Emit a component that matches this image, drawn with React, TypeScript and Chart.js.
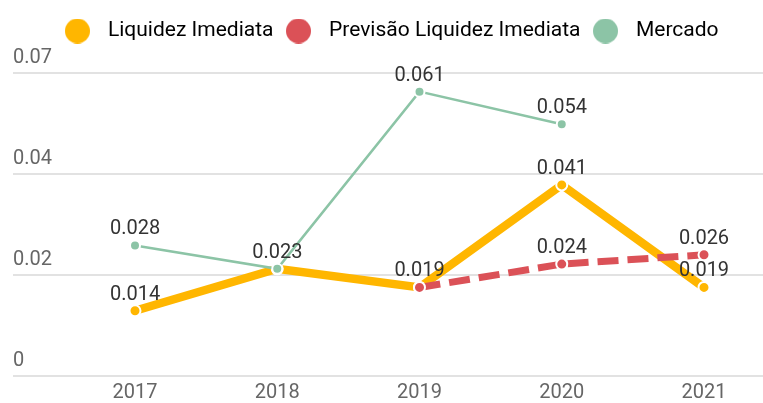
import React, { useEffect, useRef } from 'react';
import { Chart, registerables } from 'chart.js';

Chart.register(...registerables);

const categories = ['2017', '2018', '2019', '2020', '2021'];
const liquidezImediata: (number | null)[] = [0.014, 0.023, 0.019, 0.041, 0.019];
const previsaoLiquidez: (number | null)[] = [null, null, 0.019, 0.024, 0.026];
const mercado: (number | null)[] = [0.028, 0.023, 0.061, 0.054, null];
const seriesNames = ['Liquidez Imediata', 'Previsão Liquidez Imediata', 'Mercado'];
const yTickValues = [0, 0.065 / 3, (0.065 * 2) / 3, 0.065];
const yTickLabels = ['0', '0.02', '0.04', '0.07'];

const ORANGE = '#ffb600';
const RED = '#db5157';
const GREEN = '#8cc4a6';

function toPoints(arr: (number | null)[]) {
  return arr
    .map((v, i) => ({ x: i, y: v }))
    .filter((p) => p.y !== null) as { x: number; y: number }[];
}

function dot(color: string, d: number) {
  const c = document.createElement('canvas');
  c.width = d;
  c.height = d;
  const g = c.getContext('2d')!;
  g.fillStyle = color;
  g.beginPath();
  g.arc(d / 2, d / 2, d / 2, 0, Math.PI * 2);
  g.fill();
  return c;
}

const legendSpacer = {
  id: 'legendSpacer',
  beforeLayout(chart: any) {
    const lg = chart.legend;
    if (lg && !lg._spacerPatched) {
      const orig = lg.fit;
      lg.fit = function () {
        orig.call(this);
        this.height += 21.5;
      };
      lg._spacerPatched = true;
    }
  },
};

const valueLabels = {
  id: 'valueLabels',
  afterDatasetsDraw(chart: any) {
    const ctx = chart.ctx;
    ctx.save();
    ctx.font = '20px Roboto';
    ctx.fillStyle = '#333333';
    ctx.textAlign = 'center';
    ctx.textBaseline = 'middle';
    const seen = new Set<string>();
    chart.data.datasets.forEach((ds: any, di: number) => {
      const meta = chart.getDatasetMeta(di);
      meta.data.forEach((pt: any, j: number) => {
        const v = ds.data[j].y;
        const text = v.toFixed(3);
        const key = `${Math.round(pt.x)}|${Math.round(pt.y)}|${text}`;
        if (seen.has(key)) return;
        seen.add(key);
        ctx.fillText(text, pt.x, pt.y - 16);
      });
    });
    ctx.restore();
  },
};

export default function App() {
  const ref = useRef<HTMLCanvasElement>(null);

  useEffect(() => {
    if (!ref.current) return;
    Chart.defaults.font.family = 'Roboto';
    const dots = [dot(ORANGE, 25), dot(RED, 25), dot(GREEN, 25)];
    const chart = new Chart(ref.current, {
      type: 'line',
      data: {
        datasets: [
          {
            label: seriesNames[0],
            data: toPoints(liquidezImediata),
            borderColor: ORANGE,
            backgroundColor: ORANGE,
            borderWidth: 8.5,
            pointRadius: 5.5,
            pointBorderWidth: 2,
            pointBorderColor: '#ffffff',
            pointBackgroundColor: ORANGE,
            tension: 0,
            order: 3,
          },
          {
            label: seriesNames[1],
            data: toPoints(previsaoLiquidez),
            borderColor: RED,
            backgroundColor: RED,
            borderWidth: 7,
            borderDash: [21, 9],
            pointRadius: 5.5,
            pointBorderWidth: 2,
            pointBorderColor: '#ffffff',
            pointBackgroundColor: RED,
            tension: 0,
            order: 2,
          },
          {
            label: seriesNames[2],
            data: toPoints(mercado),
            borderColor: GREEN,
            backgroundColor: GREEN,
            borderWidth: 2.5,
            pointRadius: 5,
            pointBorderWidth: 2,
            pointBorderColor: '#ffffff',
            pointBackgroundColor: GREEN,
            tension: 0,
            order: 1,
          },
        ],
      },
      options: {
        animation: false,
        responsive: true,
        maintainAspectRatio: false,
        layout: { autoPadding: false, padding: { left: 13, right: 0, top: 15.5, bottom: 0 } },
        plugins: {
          tooltip: { enabled: false },
          legend: {
            position: 'top',
            labels: {
              usePointStyle: true,
              pointStyleWidth: 40,
              padding: 5,
              color: '#555555',
              font: { size: 21, family: 'Roboto' },
              generateLabels: (c: any) =>
                c.data.datasets.map((ds: any, i: number) => ({
                  text: ds.label,
                  fillStyle: ds.borderColor,
                  strokeStyle: ds.borderColor,
                  lineWidth: 0,
                  pointStyle: dots[i],
                  hidden: false,
                  datasetIndex: i,
                })),
            },
          },
        },
        scales: {
          x: {
            type: 'linear',
            min: -0.8577,
            max: 4.4148,
            grid: { display: false },
            border: { display: false },
            afterBuildTicks: (axis: any) => {
              axis.ticks = categories.map((_, i) => ({ value: i }));
            },
            afterFit: (axis: any) => {
              axis.height = 27;
              axis.paddingLeft = 0;
              axis.paddingRight = 0;
            },
            ticks: {
              padding: -3,
              color: '#666666',
              font: { size: 20, family: 'Roboto' },
              callback: (_v: any, i: number) => categories[i],
            },
          },
          y: {
            type: 'linear',
            min: 0,
            max: yTickValues[yTickValues.length - 1],
            border: { display: false },
            grid: { color: '#e2e2e2', lineWidth: 2, drawTicks: false },
            afterBuildTicks: (axis: any) => {
              axis.ticks = yTickValues.map((v) => ({ value: v }));
            },
            ticks: {
              mirror: true,
              padding: 0,
              labelOffset: -15,
              color: '#666666',
              font: { size: 20, family: 'Roboto' },
              callback: (_v: any, i: number) => yTickLabels[i],
            },
          },
        },
      },
      plugins: [legendSpacer, valueLabels],
    } as any);
    return () => chart.destroy();
  }, []);

  return (
    <div style={{ position: 'absolute', left: 0, top: 0, width: 763, height: 403, background: '#fff' }}>
      <canvas ref={ref} />
    </div>
  );
}
